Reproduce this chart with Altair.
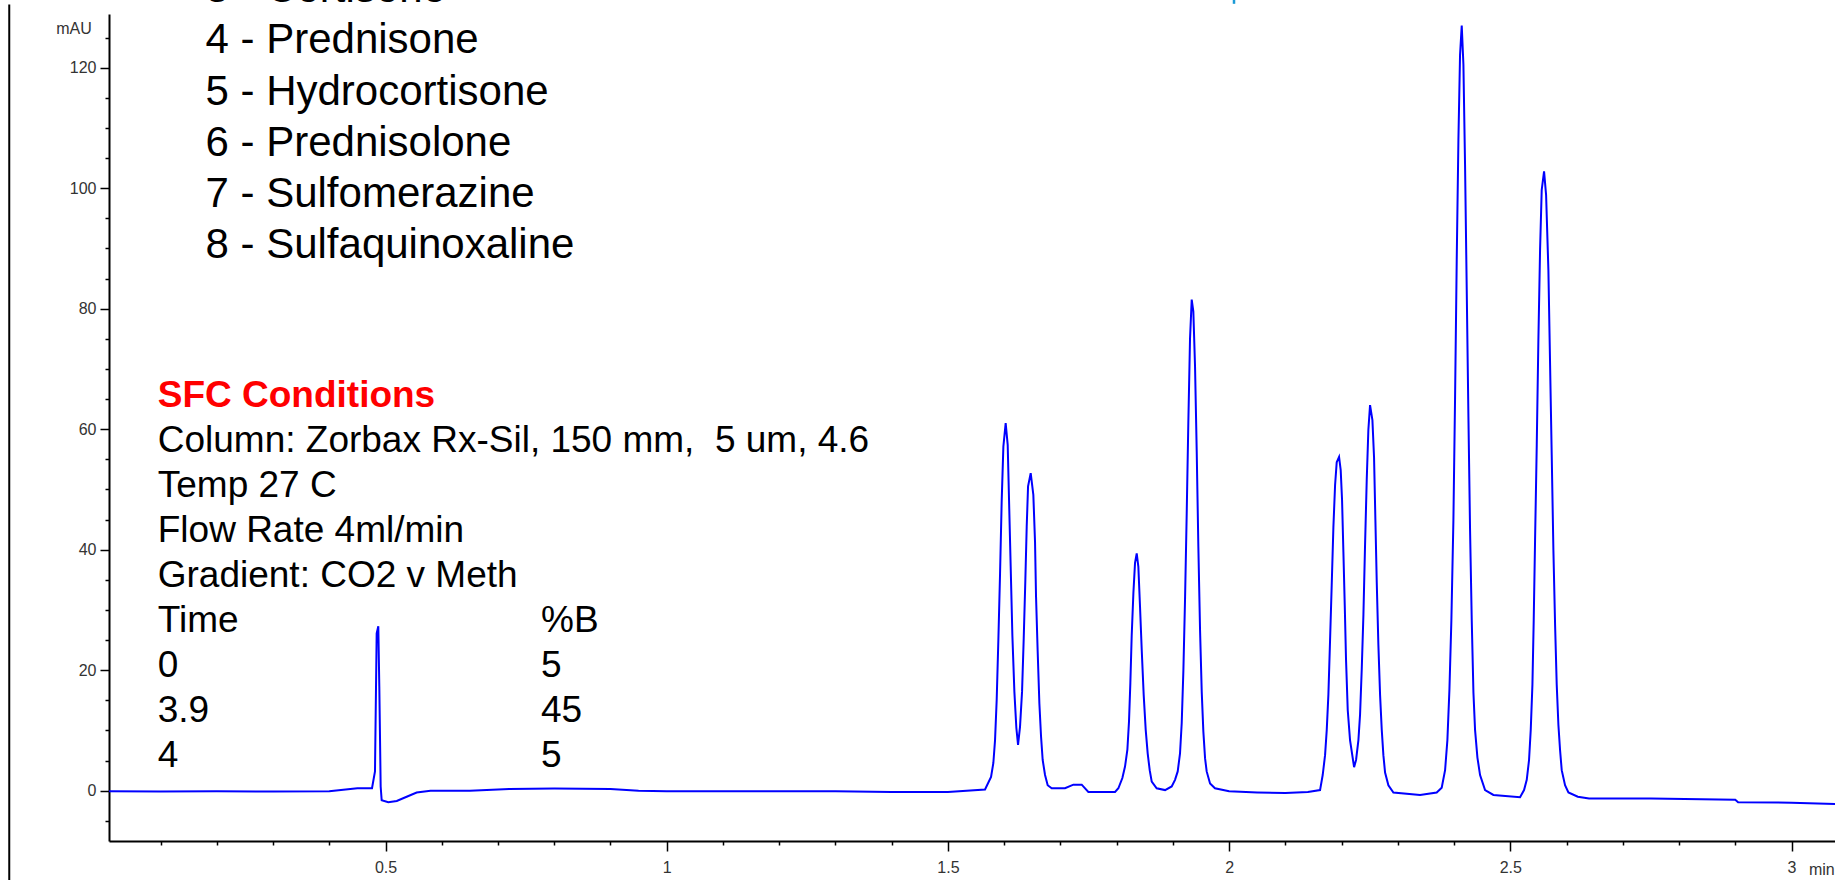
import altair as alt
import pandas as pd

FONT = "Liberation Sans"

# ---------------- chromatogram trace ----------------
# baseline + solvent/void peak (time in min, signal in mAU)
t_start = [0.0084, 0.100, 0.200, 0.300, 0.400, 0.450, 0.476, 0.4813, 0.4843, 0.4872,
           0.4890, 0.4914, 0.4932, 0.5050, 0.5200, 0.5376, 0.5554, 0.5800, 0.6500, 0.7200,
           0.8000, 0.9000, 0.9500, 1.0000, 1.1000, 1.2000, 1.3000, 1.4000, 1.5000, 1.5660]
a_start = [-0.1, -0.15, -0.1, -0.15, -0.1, 0.4, 0.4, 3.2, 26.1, 27.3,
           17.3, 0.7, -1.6, -1.9, -1.7, -1.0, -0.3, 0.0, 0.0, 0.3,
           0.35, 0.3, 0.0, -0.1, -0.1, -0.1, -0.1, -0.2, -0.2, 0.2]

# peaks 1 and 2
t_p12 = [1.5767, 1.5808, 1.5838, 1.5867, 1.5897, 1.5927, 1.5956, 1.5986, 1.6027,
         1.6063, 1.6087, 1.6116, 1.6146, 1.6182, 1.6217, 1.6247,
         1.6282, 1.6318, 1.6348, 1.6377, 1.6401, 1.6425, 1.6472,
         1.6519, 1.6549, 1.6567, 1.6596, 1.6626, 1.6656, 1.6685, 1.6727, 1.6774, 1.6845,
         1.7082, 1.7231, 1.7379, 1.7497, 1.7972]
a_p12 = [2.3, 4.6, 8.4, 15.0, 25.0, 36.0, 48.0, 57.1, 61.0,
         57.4, 48.2, 37.2, 25.8, 16.4, 10.4, 7.6,
         10.6, 16.4, 25.3, 35.0, 43.8, 50.5, 52.7,
         49.1, 41.3, 32.2, 23.1, 14.5, 9.0, 5.1, 2.6, 0.9, 0.4,
         0.4, 1.0, 1.0, -0.2, -0.2]

# peak 3
t_p3 = [1.8031, 1.8102, 1.8149, 1.8191, 1.8220, 1.8244, 1.8268, 1.8298, 1.8327, 1.8357,
        1.8386, 1.8416, 1.8446, 1.8481, 1.8517, 1.8552, 1.8588, 1.8624, 1.8712, 1.8861]
a_p3 = [0.4, 2.1, 4.0, 6.8, 11.5, 17.9, 25.8, 32.8, 37.8, 39.4,
        37.2, 30.5, 23.4, 15.9, 10.1, 6.2, 3.4, 1.5, 0.4, 0.1]

# peak 4
t_p4 = [1.8979, 1.9038, 1.9086, 1.9127, 1.9157, 1.9187, 1.9216, 1.9246, 1.9275, 1.9305,
        1.9335, 1.9364, 1.9394, 1.9424, 1.9453, 1.9483, 1.9513, 1.9542, 1.9572, 1.9601,
        1.9661, 1.9749, 2.0000, 2.0500, 2.1000, 2.1400]
a_p4 = [0.7, 1.8, 3.2, 6.2, 11.2, 20.0, 31.7, 46.0, 61.2, 75.1,
        81.5, 79.5, 70.4, 56.3, 40.5, 26.7, 16.4, 9.8, 5.4, 3.2,
        1.2, 0.4, -0.1, -0.3, -0.4, -0.2]

# peaks 5 and 6
t_p56 = [2.1617, 2.1664, 2.1706, 2.1736, 2.1765, 2.1795, 2.1824, 2.1854, 2.1884, 2.1913,
         2.1955, 2.1984, 2.2008, 2.2032, 2.2056, 2.2079, 2.2109, 2.2150, 2.2222, 2.2257,
         2.2299, 2.2328, 2.2358, 2.2388, 2.2417, 2.2447, 2.2476, 2.2506, 2.2548, 2.2577,
         2.2601, 2.2625, 2.2654, 2.2684, 2.2714, 2.2743, 2.2773, 2.2832, 2.2921, 2.3395,
         2.3691]
a_p56 = [0.1, 2.6, 5.9, 10.1, 15.9, 25.0, 34.1, 43.7, 50.7, 54.5,
         55.4, 53.2, 48.3, 39.6, 30.8, 21.7, 13.4, 8.4, 3.9, 5.1,
         8.4, 12.6, 20.1, 29.2, 40.8, 51.6, 59.9, 64.0, 61.5, 55.3,
         44.9, 34.6, 24.2, 15.9, 10.1, 5.9, 3.0, 0.9, -0.3, -0.7,
         -0.3]

# peak 7
t_p7 = [2.3780, 2.3840, 2.3881, 2.3917, 2.3952, 2.3988, 2.4017, 2.4047, 2.4077, 2.4106,
        2.4136, 2.4166, 2.4195, 2.4225, 2.4255, 2.4284, 2.4314, 2.4344, 2.4373, 2.4415,
        2.4462, 2.4551, 2.4699, 2.5173]
a_p7 = [0.5, 3.4, 8.4, 16.7, 28.3, 44.9, 64.9, 88.1, 108.0, 122.1,
        127.0, 120.5, 103.9, 83.1, 62.0, 43.3, 28.3, 16.3, 10.1, 5.5,
        2.6, 0.1, -0.7, -1.1]

# peak 8 and tail
t_p8 = [2.5244, 2.5292, 2.5333, 2.5363, 2.5393, 2.5416, 2.5440, 2.5470, 2.5499, 2.5529,
        2.5558, 2.5600, 2.5636, 2.5677, 2.5707, 2.5736, 2.5766, 2.5796, 2.5825, 2.5855,
        2.5884, 2.5914, 2.5973, 2.6033, 2.6200, 2.6400, 2.7500, 2.9000, 2.9050, 3.0000,
        3.0773]
a_p8 = [0.1, 1.8, 5.1, 10.1, 17.6, 28.3, 41.6, 57.4, 74.8, 89.8,
        99.7, 102.8, 98.9, 86.4, 70.7, 55.7, 39.9, 27.5, 17.6, 10.9,
        6.8, 3.4, 0.9, -0.3, -1.0, -1.3, -1.3, -1.5, -1.9, -2.0,
        -2.2]

time_min = t_start + t_p12 + t_p3 + t_p4 + t_p56 + t_p7 + t_p8
signal_mau = a_start + a_p12 + a_p3 + a_p4 + a_p56 + a_p7 + a_p8

# ---------------- axes ----------------
x_tick_values = [0.1, 0.2, 0.3, 0.4, 0.5, 0.6, 0.7, 0.8, 0.9, 1.0,
                 1.1, 1.2, 1.3, 1.4, 1.5, 1.6, 1.7, 1.8, 1.9, 2.0,
                 2.1, 2.2, 2.3, 2.4, 2.5, 2.6, 2.7, 2.8, 2.9, 3.0]
y_tick_values = [-5, 0, 5, 10, 15, 20, 25, 30, 35, 40, 45, 50, 55, 60, 65,
                 70, 75, 80, 85, 90, 95, 100, 105, 110, 115, 120, 125]
X_DOMAIN = [0.00836, 3.0773]
Y_DOMAIN = [-8.35, 128.91]

# ---------------- annotation text ----------------
compound_labels = ["3 - Cortisone", "4 - Prednisone", "5 - Hydrocortisone",
                   "6 - Prednisolone", "7 - Sulfomerazine", "8 - Sulfaquinoxaline"]
compound_y = [130.85, 122.36, 113.86, 105.36, 96.86, 88.37]
compound_x = 0.1799

cond_title = "SFC Conditions"
cond_title_y = 63.63
cond_lines = ["Column: Zorbax Rx-Sil, 150 mm,\u00a0 5 um, 4.6", "Temp 27 C",
              "Flow Rate 4ml/min", "Gradient: CO2 v Meth", "Time", "0", "3.9", "4"]
cond_y = [56.17, 48.71, 41.26, 33.81, 26.36, 18.90, 11.45, 4.00]
cond_x = 0.0950
pctb_lines = ["%B", "5", "45", "5"]
pctb_y = [26.36, 18.90, 11.45, 4.00]
pctb_x = 0.7765

# ---------------- build chart ----------------
xs = alt.Scale(domain=X_DOMAIN, nice=False, zero=False)
ys = alt.Scale(domain=Y_DOMAIN, nice=False, zero=False)

trace = pd.DataFrame({"time": time_min, "mAU": signal_mau})

major_x = "abs(datum.value * 2 - round(datum.value * 2)) < 0.001"
major_y = "datum.value % 20 === 0"

x_axis = alt.Axis(
    values=x_tick_values, title=None, grid=False,
    labelExpr=f"{major_x} ? toString(round(datum.value * 2) / 2) : ''",
    tickSize={"condition": {"test": major_x, "value": 10}, "value": 4},
    tickColor="black", tickWidth=1.5, domainColor="black", domainWidth=2,
    labelFont=FONT, labelFontSize=16, labelColor="#333333", labelPadding=8,
    labelFlush=False, labelOverlap=False,
)
y_axis = alt.Axis(
    values=y_tick_values, title=None, grid=False,
    labelExpr=f"{major_y} ? datum.label : ''",
    tickSize={"condition": {"test": major_y, "value": 9}, "value": 4},
    tickColor="black", tickWidth=1.5, domainColor="black", domainWidth=2,
    labelFont=FONT, labelFontSize=16, labelColor="#333333", labelPadding=4,
    labelFlush=False, labelOverlap=False,
)


def X(field):
    return alt.X(field, type="quantitative", scale=xs, axis=x_axis)


def Y(field):
    return alt.Y(field, type="quantitative", scale=ys, axis=y_axis)


line = alt.Chart(trace).mark_line(color="#0000ff", strokeWidth=2).encode(
    x=X("time"), y=Y("mAU"), order="time:Q",
)


def text_layer(df, **kw):
    return alt.Chart(df).mark_text(font=FONT, baseline="alphabetic", **kw).encode(
        x=X("x"), y=Y("y"), text="label:N",
    )


compounds = text_layer(
    pd.DataFrame({"x": [compound_x] * len(compound_labels), "y": compound_y, "label": compound_labels}),
    align="left", fontSize=42, color="black")
cond_head = text_layer(
    pd.DataFrame({"x": [cond_x], "y": [cond_title_y], "label": [cond_title]}),
    align="left", fontSize=37, fontWeight="bold", color="#ff0000")
conds = text_layer(
    pd.DataFrame({"x": [cond_x] * len(cond_lines), "y": cond_y, "label": cond_lines}),
    align="left", fontSize=37, color="black")
pctb = text_layer(
    pd.DataFrame({"x": [pctb_x] * len(pctb_lines), "y": pctb_y, "label": pctb_lines}),
    align="left", fontSize=37, color="black")
mau_title = text_layer(
    pd.DataFrame({"x": [-0.0224], "y": [125.54], "label": ["mAU"]}),
    align="right", fontSize=16, color="#333333")
min_title = text_layer(
    pd.DataFrame({"x": [3.031], "y": [-13.99], "label": ["min"]}),
    align="left", fontSize=16, color="#333333")

border = alt.Chart(pd.DataFrame({"x": [-0.169], "y": [130.5], "y2": [-16.0]})).mark_rule(
    color="black", strokeWidth=2).encode(x=X("x"), y=Y("y"), y2="y2:Q")
blue_mark = alt.Chart(pd.DataFrame({"x": [2.0087], "y": [131.6], "y2": [130.6]})).mark_rule(
    color="#1a9ad6", strokeWidth=2.5).encode(x=X("x"), y=Y("y"), y2="y2:Q")

chart = alt.layer(
    line, border, blue_mark, compounds, cond_head, conds, pctb, mau_title, min_title
).properties(
    width=1726, height=827,
    autosize=alt.AutoSizeParams(type="none"),
    padding={"left": 109, "top": 14, "right": 0, "bottom": 39},
    background="white",
).configure_view(strokeWidth=0)

chart.save("out.html", embed_options={"renderer": "svg", "actions": False})
